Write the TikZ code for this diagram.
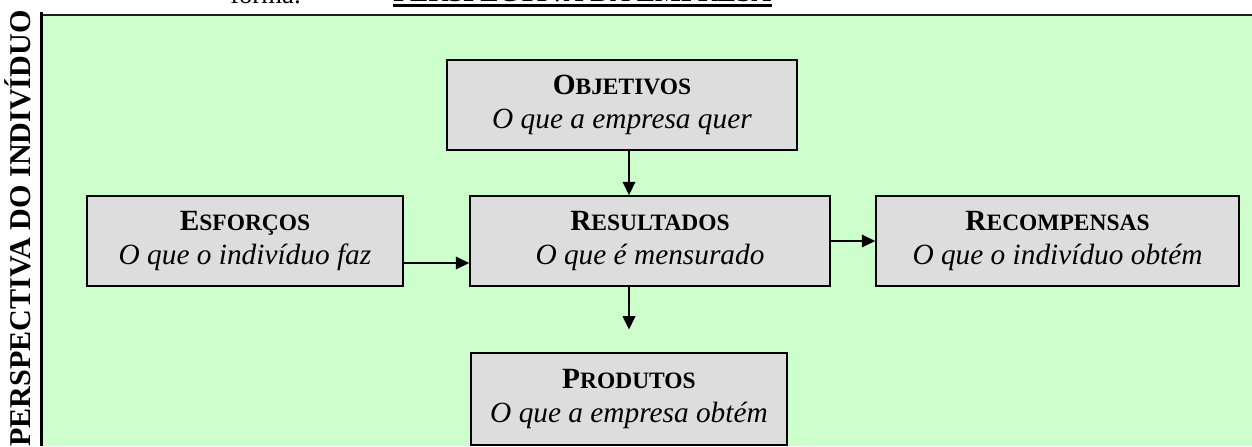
\documentclass[tikz,border=0pt]{standalone}
\usepackage{fontspec}
\setmainfont{Liberation Serif}
\usetikzlibrary{positioning}
\usetikzlibrary{arrows.meta}

\definecolor{fundoverde}{RGB}{204,255,204}
\definecolor{cinzacaixa}{RGB}{221,221,221}

% fake small caps for the box titles
\newcommand{\versal}[2]{\textbf{{\fontsize{22}{26}\selectfont #1}{\fontsize{17.6}{26}\selectfont #2}}}

\tikzset{
  caixa/.style={draw=black, line width=1.3pt, fill=cinzacaixa, align=center, inner sep=0pt,
    minimum height=67.5pt, font=\fontsize{22}{26}\selectfont},
  seta/.style={line width=1.2pt, -{Triangle[length=10pt,width=9.5pt]}}
}

\begin{document}
\begin{tikzpicture}[x=0.75pt,y=0.75pt,yscale=-1,xscale=1]
\useasboundingbox (0,0) rectangle (1252,446);
\clip (0,0) rectangle (1252,446);

%Shape: green panel
\fill [fundoverde] (41,15) rectangle (1252,446);
\draw [line width=1.6pt, color={rgb, 255:red, 30; green, 30; blue, 30 }] (40,15) -- (1252,15);
\draw [line width=2.4pt] (41.5,12) -- (41.5,446);

% Text Node: top line, cut by the page
\draw (230,3) node [anchor=base west][inner sep=0pt] (forma) {\fontsize{20}{24}\selectfont forma:};
\draw (393,2) node [anchor=base west][inner sep=0pt] (titulo) {\fontsize{20.6}{24}\selectfont\textbf{PERSPECTIVA DA EMPRESA}};
\draw [line width=2.2pt] ([yshift=2.8pt]titulo.base west) -- ([yshift=2.8pt]titulo.base east);

% Text Node: vertical label
\draw (31,10) node [rotate=90, anchor=base east][inner sep=0pt] (individuo) {\fontsize{22.6}{26}\selectfont\textbf{PERSPECTIVA DO INDIVÍDUO}};

% Boxes
\draw (622,105) node [caixa, minimum width=262.5pt] (objetivos) {\versal{O}{BJETIVOS}\\ \textit{O que a empresa quer}};
\draw (245,241) node [caixa, minimum width=237pt] (esforcos) {\versal{E}{SFORÇOS}\\ \textit{O que o indivíduo faz}};
\draw (650,241) node [caixa, minimum width=270pt] (resultados) {\versal{R}{ESULTADOS}\\ \textit{O que é mensurado}};
\draw (1057.5,241) node [caixa, minimum width=272.25pt] (recompensas) {\versal{R}{ECOMPENSAS}\\ \textit{O que o indivíduo obtém}};
\draw (629,399) node [caixa, minimum width=237pt, minimum height=69pt] (produtos) {\versal{P}{RODUTOS}\\ \textit{O que a empresa obtém}};

% Arrows
\draw [seta] (objetivos.south -| produtos.north) -- (resultados.north -| produtos.north);
\draw [seta] ([yshift=16.5pt]esforcos.east) -- ([yshift=16.5pt]resultados.west);
\draw [seta] (resultados.east) -- (recompensas.west);
\draw [seta, shorten >=17pt] (resultados.south -| produtos.north) -- (produtos.north);

\end{tikzpicture}
\end{document}
